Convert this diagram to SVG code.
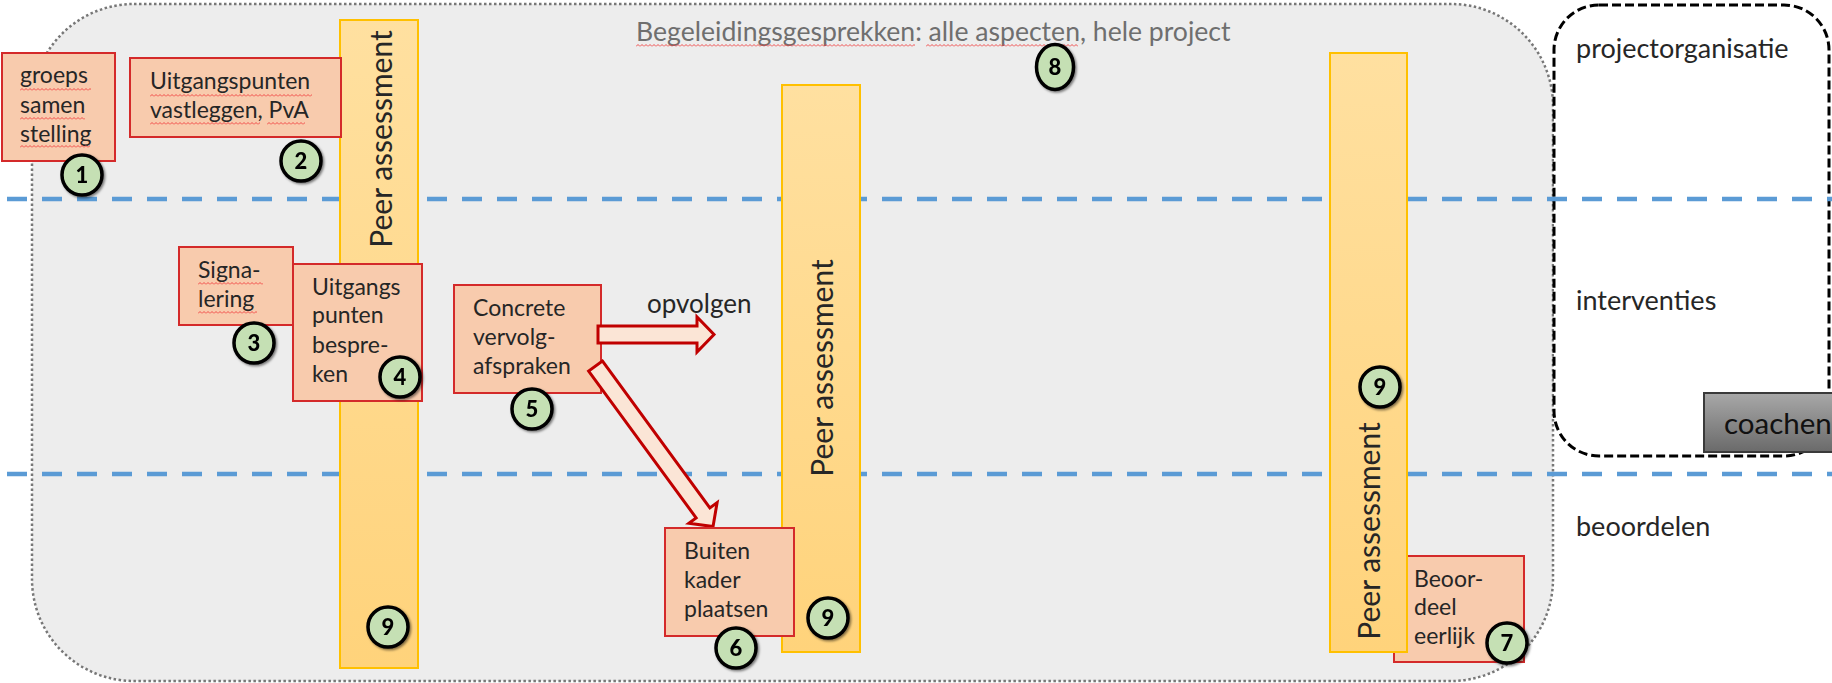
<svg xmlns="http://www.w3.org/2000/svg" width="1832" height="683" viewBox="0 0 1832 683">
<style>
.t{font-family:Lato,"Open Sans","Liberation Sans",sans-serif;fill:#262626}
.bt{font-size:23px}
.lbl{font-size:27px}
.pa{font-size:30px;text-anchor:middle}
.box{fill:#f8cbad;stroke:#d42a2a;stroke-width:2}
.bar{fill:url(#barGrad);stroke:#ffc000;stroke-width:2}
.num circle,.num ellipse{fill:#c5e0b4;stroke:#000;stroke-width:3.5}
.num text{font-family:Lato,"Liberation Sans",sans-serif;font-weight:900;font-size:22px;text-anchor:middle;fill:#000}
.num{filter:url(#sh)}
.arrow{fill:#fbe5d6;stroke:#c00000;stroke-width:3}
.wv{fill:url(#wavy)}
</style>
<defs>
<linearGradient id="barGrad" x1="0" y1="0" x2="0" y2="1">
<stop offset="0" stop-color="#ffe0a0"/>
<stop offset="1" stop-color="#ffd37b"/>
</linearGradient>
<linearGradient id="coachGrad" x1="0" y1="0" x2="0" y2="1">
<stop offset="0" stop-color="#a8a8a8"/>
<stop offset="1" stop-color="#6a6a6a"/>
</linearGradient>
<filter id="sh" x="-30%" y="-30%" width="170%" height="170%">
<feDropShadow dx="1.5" dy="1.5" stdDeviation="1.2" flood-color="#000" flood-opacity="0.5"/>
</filter>
<pattern id="wavy" width="4" height="3" patternUnits="userSpaceOnUse">
<path d="M0,2.5 L2,0.5 L4,2.5" fill="none" stroke="#f03c3c" stroke-width="0.9"/>
</pattern>
</defs>

<g id="background">
<rect x="32" y="4" width="1521" height="677" rx="102" ry="102" fill="#ededed" stroke="#777" stroke-width="2.5" stroke-dasharray="2.5 2.5"/>
</g>

<g id="projectorganisatie-frame">
<rect x="1554" y="5" width="275" height="451" rx="45" ry="45" fill="#fff" stroke="#000" stroke-width="3" stroke-dasharray="9 4"/>
</g>

<g id="lanes">
<line x1="7" y1="199" x2="1832" y2="199" stroke="#5b9bd5" stroke-width="4.5" stroke-dasharray="20 15"/>
<line x1="7" y1="474" x2="1832" y2="474" stroke="#5b9bd5" stroke-width="4.5" stroke-dasharray="20 15"/>
</g>

<g id="lane-labels">
<text class="t lbl" x="1576" y="58">projectorganisatie</text>
<text class="t lbl" x="1576" y="310">interventies</text>
<text class="t lbl" x="1576" y="536">beoordelen</text>
</g>

<g id="title">
<text class="t" x="636" y="41" style="font-size:26.6px;fill:#6f6f6f">Begeleidingsgesprekken: alle aspecten, hele project</text>
<g transform="translate(636,44)"><rect class="wv" width="279" height="3"/></g>
<g transform="translate(926,44)"><rect class="wv" width="152" height="3"/></g>
</g>

<g id="box7">
<rect class="box" x="1394" y="556" width="130" height="106"/>
<text class="t bt" x="1414" y="587">Beoor-</text>
<text class="t bt" x="1414" y="615">deel</text>
<text class="t bt" x="1414" y="644">eerlijk</text>
</g>

<g id="bar1">
<rect class="bar" x="340" y="20" width="78" height="648"/>
<text class="t pa" transform="translate(392,139) rotate(-90)">Peer assessment</text>
</g>
<g id="bar2">
<rect class="bar" x="782" y="85" width="78" height="567"/>
<text class="t pa" transform="translate(833,368) rotate(-90)">Peer assessment</text>
</g>
<g id="bar3">
<rect class="bar" x="1330" y="53" width="77" height="599"/>
<text class="t pa" transform="translate(1380,531) rotate(-90)">Peer assessment</text>
</g>

<g id="box1">
<rect class="box" x="2" y="53" width="113" height="108"/>
<text class="t bt" x="20" y="83">groeps</text>
<text class="t bt" x="20" y="113">samen</text>
<text class="t bt" x="20" y="142">stelling</text>
<g transform="translate(20,88)"><rect class="wv" width="71" height="3"/></g>
<g transform="translate(20,117)"><rect class="wv" width="65" height="3"/></g>
<g transform="translate(20,145)"><rect class="wv" width="70" height="3"/></g>
</g>

<g id="box2">
<rect class="box" x="130" y="58" width="211" height="79"/>
<text class="t bt" x="150" y="89">Uitgangspunten</text>
<text class="t bt" x="150" y="118">vastleggen, PvA</text>
<g transform="translate(150,94)"><rect class="wv" width="162" height="3"/></g>
<g transform="translate(150,122)"><rect class="wv" width="110" height="3"/></g>
<g transform="translate(267,122)"><rect class="wv" width="38" height="3"/></g>
</g>

<g id="box3">
<rect class="box" x="179" y="247" width="114" height="78"/>
<text class="t bt" x="198" y="278">Signa-</text>
<text class="t bt" x="198" y="307">lering</text>
<g transform="translate(198,282)"><rect class="wv" width="65" height="3"/></g>
<g transform="translate(198,311)"><rect class="wv" width="59" height="3"/></g>
</g>

<g id="box4">
<rect class="box" x="293" y="264" width="129" height="137"/>
<text class="t bt" x="312" y="295">Uitgangs</text>
<text class="t bt" x="312" y="323">punten</text>
<text class="t bt" x="312" y="353">bespre-</text>
<text class="t bt" x="312" y="382">ken</text>
</g>

<g id="box5">
<rect class="box" x="454" y="285" width="147" height="108"/>
<text class="t bt" x="473" y="316">Concrete</text>
<text class="t bt" x="473" y="345">vervolg-</text>
<text class="t bt" x="473" y="374">afspraken</text>
</g>

<g id="connectors">
<path class="arrow" transform="translate(598,334.5)" d="M0,-8.5 L99,-8.5 L99,-17.5 L116,0 L99,17.5 L99,8.5 L0,8.5 Z"/>
<path class="arrow" transform="translate(595.5,366) rotate(53.8)" d="M0,-8.5 L182,-8.5 L182,-17.5 L199,0 L182,17.5 L182,8.5 L0,8.5 Z"/>
<text class="t" x="647" y="313" style="font-size:26px">opvolgen</text>
</g>

<g id="box6">
<rect class="box" x="665" y="528" width="129" height="108"/>
<text class="t bt" x="684" y="559">Buiten</text>
<text class="t bt" x="684" y="588">kader</text>
<text class="t bt" x="684" y="617">plaatsen</text>
</g>

<g id="coachen">
<rect x="1704" y="393" width="140" height="59" fill="url(#coachGrad)" stroke="#3a3a3a" stroke-width="2"/>
<text class="t" x="1724" y="434" style="font-size:29.5px;fill:#111">coachen</text>
</g>

<g id="n1" class="num"><circle cx="82" cy="175" r="20"/><text x="82" y="183">1</text></g>
<g id="n2" class="num"><circle cx="301" cy="161" r="20"/><text x="301" y="169">2</text></g>
<g id="n3" class="num"><circle cx="254" cy="343" r="20"/><text x="254" y="351">3</text></g>
<g id="n4" class="num"><circle cx="400" cy="377" r="20"/><text x="400" y="385">4</text></g>
<g id="n5" class="num"><circle cx="532" cy="409" r="20"/><text x="532" y="417">5</text></g>
<g id="n6" class="num"><circle cx="736" cy="648" r="20"/><text x="736" y="656">6</text></g>
<g id="n7" class="num"><circle cx="1507" cy="643" r="20"/><text x="1507" y="651">7</text></g>
<g id="n8" class="num"><ellipse cx="1055" cy="67" rx="18.5" ry="22.5"/><text x="1055" y="75">8</text></g>
<g id="n9a" class="num"><circle cx="388" cy="627" r="20"/><text x="388" y="635">9</text></g>
<g id="n9b" class="num"><circle cx="828" cy="618" r="20"/><text x="828" y="626">9</text></g>
<g id="n9c" class="num"><circle cx="1380" cy="387" r="20"/><text x="1380" y="395">9</text></g>
</svg>
